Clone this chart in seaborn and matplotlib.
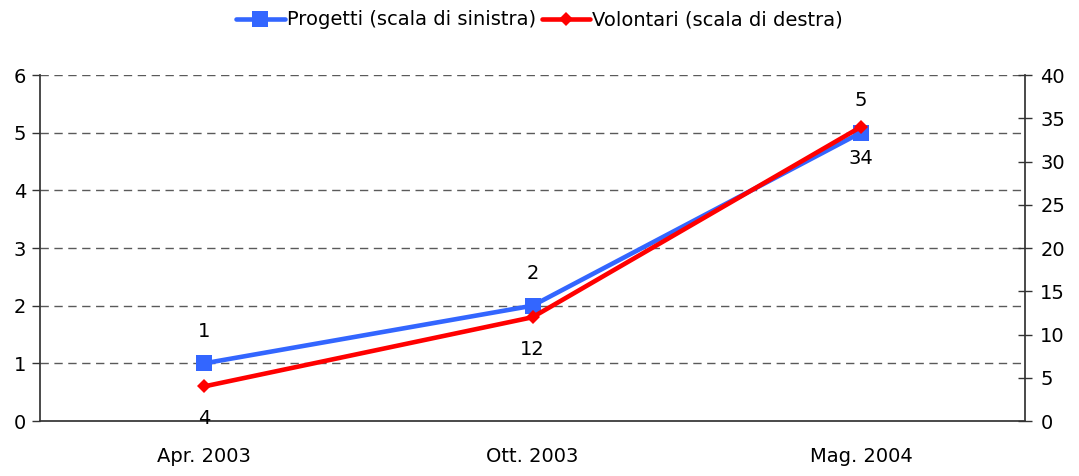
import matplotlib
matplotlib.use("Agg")
import matplotlib.pyplot as plt
import seaborn as sns
import pandas as pd

categories = ["Apr. 2003", "Ott. 2003", "Mag. 2004"]
progetti = [1, 2, 5]
volontari = [4, 12, 34]
left_ticks = [0, 1, 2, 3, 4, 5, 6]
right_ticks = [0, 5, 10, 15, 20, 25, 30, 35, 40]

sns.set_theme(style="white")
plt.rcParams['font.family'] = ['DejaVu Sans']
plt.rcParams['text.color'] = 'black'
plt.rcParams['xtick.color'] = 'black'
plt.rcParams['ytick.color'] = 'black'

FS = 14

pos = [i + 0.5 for i in range(len(categories))]
df = pd.DataFrame({"x": pos, "Progetti": progetti, "Volontari": volontari})

fig = plt.figure(figsize=(10.79, 4.76), dpi=100)
ax = fig.add_axes([0.0371, 0.1155, 0.9129, 0.7269])
ax2 = ax.twinx()

blue = "#3366FF"
red = "#FF0000"

sns.lineplot(data=df, x="x", y="Progetti", ax=ax, color=blue, linewidth=3.3,
             marker="s", markersize=12, markeredgewidth=0, zorder=3,
             label="Progetti (scala di sinistra)", legend=False)
sns.lineplot(data=df, x="x", y="Volontari", ax=ax2, color=red, linewidth=3.3,
             marker="D", markersize=7.5, markeredgewidth=0, zorder=3,
             label="Volontari (scala di destra)", legend=False)

ax.set_xlim(0, len(categories))
ax.set_ylim(0, 6)
ax2.set_ylim(0, 40)
ax.set_yticks(left_ticks)
ax2.set_yticks(right_ticks)
ax.set_xticks(range(len(categories) + 1))
ax.set_xticklabels([])
ax.set_xticks(pos, minor=True)
ax.set_xticklabels(categories, minor=True)
ax.tick_params(axis="x", which="minor", length=0, pad=19, labelsize=FS, labelcolor="black")
ax.tick_params(axis="x", which="major", length=6, direction="out", color="#333333", width=1)
ax.tick_params(axis="y", length=6, direction="out", color="#333333", width=1, labelsize=FS,
               pad=4, labelcolor="black")
ax2.tick_params(axis="y", length=10, direction="inout", color="#333333", width=1, labelsize=FS,
                pad=6, labelcolor="black")
ax.set_xlabel("")
ax.set_ylabel("")
ax2.set_ylabel("")

for a in (ax, ax2):
    for s in a.spines.values():
        s.set_visible(False)
    a.spines["left"].set_visible(a is ax)
    a.spines["right"].set_visible(a is ax2)
    a.spines["bottom"].set_visible(a is ax)
    a.spines["left"].set_color("#333333")
    a.spines["right"].set_color("#333333")
    a.spines["bottom"].set_color("#333333")
    a.grid(False)

for v in left_ticks[1:]:
    ax.axhline(v, color="#5a5a5a", linestyle=(0, (6, 4)), linewidth=1, zorder=1)

for x, v in zip(pos, progetti):
    ax.annotate(str(v), (x, v), xytext=(0, 23), textcoords="offset points",
                ha="center", va="center", fontsize=FS, color="black")
for x, v in zip(pos, volontari):
    ax2.annotate(str(v), (x, v), xytext=(0, -23), textcoords="offset points",
                 ha="center", va="center", fontsize=FS, color="black")

h1, l1 = ax.get_legend_handles_labels()
h2, l2 = ax2.get_legend_handles_labels()
fig.legend(h1 + h2, l1 + l2, loc="center", bbox_to_anchor=(0.5, 0.958), ncol=2,
           frameon=False, fontsize=FS, handlelength=2.5, handletextpad=0.1,
           columnspacing=0.3)

fig.savefig("out.png", dpi=100)
